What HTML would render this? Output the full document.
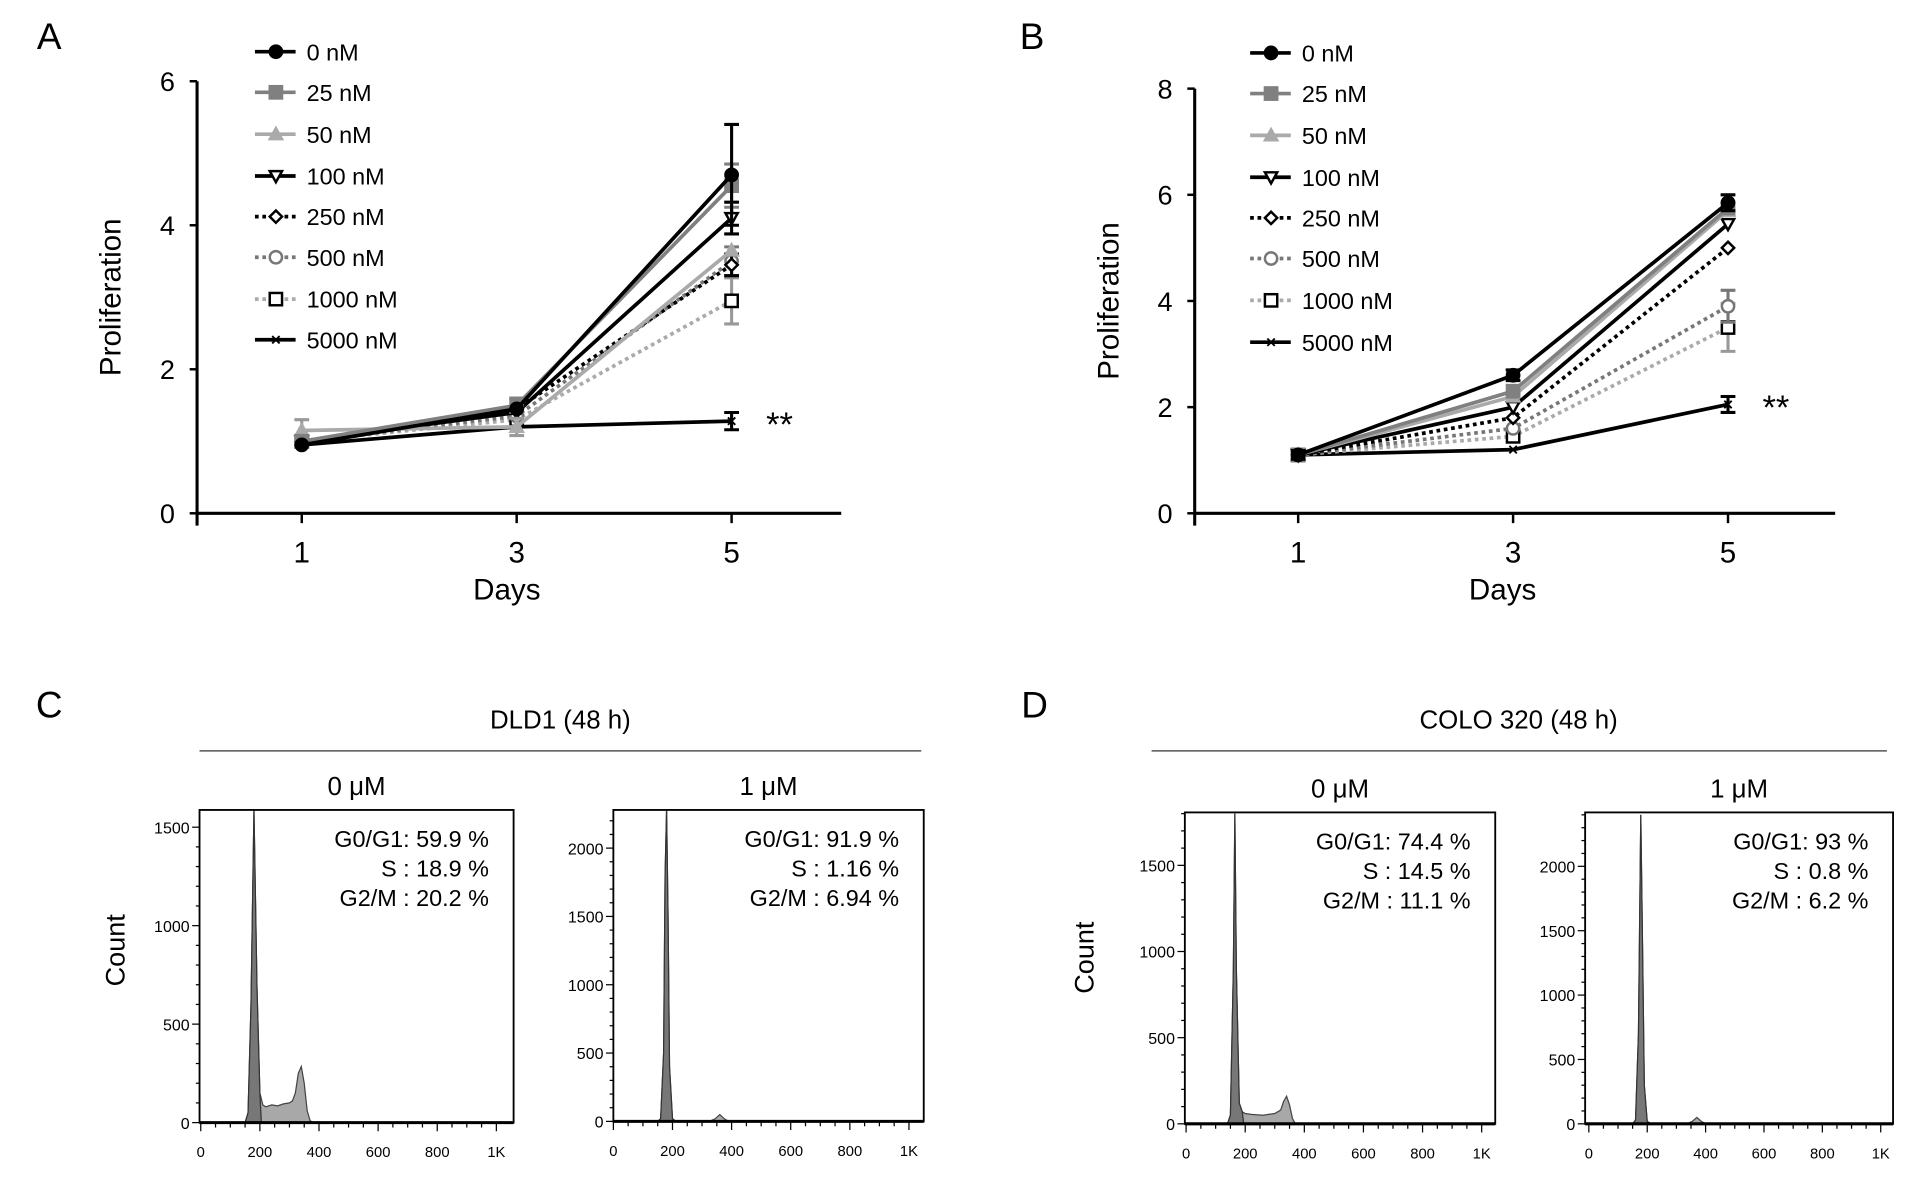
<!DOCTYPE html>
<html><head><meta charset="utf-8"><style>
html,body{margin:0;padding:0;background:#fff;}
svg{display:block;font-family:"Liberation Sans",sans-serif;}
</style></head><body>
<svg id="fig" width="1930" height="1178" viewBox="0 0 1567 957" preserveAspectRatio="none" xmlns="http://www.w3.org/2000/svg">
<rect width="1567" height="957" fill="#fff"/>
<g id="root"></g>
</svg>
<script>
// ---------- data ----------
const days = [1, 3, 5];
const seriesNames = ["0 nM","25 nM","50 nM","100 nM","250 nM","500 nM","1000 nM","5000 nM"];
const dataA = [
  [0.95,1.45,4.7],[1.0,1.5,4.55],[1.15,1.2,3.65],[1.0,1.4,4.1],
  [1.0,1.45,3.45],[1.0,1.35,3.5],[1.0,1.3,2.95],[0.95,1.2,1.28]];
const errA = [
  [0,0,0.7],[0,0.1,0.3],[0.15,0.12,0],[0,0,0.22],
  [0,0,0.15],[0,0,0.2],[0,0,0.32],[0,0,0.12]];
const dataB = [
  [1.1,2.6,5.85],[1.1,2.3,5.75],[1.1,2.2,5.7],[1.1,2.0,5.45],
  [1.1,1.8,5.0],[1.1,1.6,3.9],[1.1,1.45,3.5],[1.1,1.2,2.05]];
const errB = [
  [0.08,0.1,0.15],[0,0,0.1],[0,0,0],[0,0,0],
  [0,0,0],[0,0,0.3],[0,0,0.45],[0,0,0.15]];
const yTicksA = [0,2,4,6];
const yTicksB = [0,2,4,6,8];
// histograms: DNA content values and counts
const hC1x = [0,150,160,170,180,190,200,210,220,240,260,280,300,310,320,330,340,350,360,370,380,1000];
const hC1y = [0,0,50,600,1600,700,150,90,80,90,85,95,100,110,150,250,285,200,60,10,0,0];
const hC2x = [0,150,160,170,175,180,185,190,200,210,330,345,360,375,390,1000];
const hC2y = [0,0,20,500,1800,2300,1500,400,20,5,5,20,50,20,0,0];
const hD1x = [0,140,150,160,165,170,180,190,200,220,260,300,320,330,340,350,360,370,1000];
const hD1y = [0,0,50,900,1800,900,120,70,60,55,50,60,80,130,160,110,30,0,0];
const hD2x = [0,150,160,170,178,185,190,200,210,340,355,370,385,400,1000];
const hD2y = [0,0,30,700,2400,1200,300,20,5,5,20,50,20,0,0];
const hxTicks = [0,200,400,600,800,1000];
const hxLabels = ["0","200","400","600","800","1K"];

// ---------- helpers ----------
const NS="http://www.w3.org/2000/svg";
const root=document.getElementById('root');
function el(tag,attrs,parent,txt){const e=document.createElementNS(NS,tag);for(const k in attrs)e.setAttribute(k,attrs[k]);if(txt!==undefined)e.textContent=txt;(parent||root).appendChild(e);return e;}
function grp(name){const g=document.createElementNS(NS,'g');


root.appendChild(g);return g;}

const styles=[
 {c:"#000",d:"",m:"circle",f:"#000"},
 {c:"#808080",d:"",m:"square",f:"#808080"},
 {c:"#aaa",d:"",m:"tri",f:"#aaa"},
 {c:"#000",d:"",m:"dtri",f:"#fff"},
 {c:"#000",d:"3,3",m:"diamond",f:"#fff"},
 {c:"#777",d:"3,3",m:"circle",f:"#fff"},
 {c:"#aaa",d:"3,3",m:"square",f:"#fff"},
 {c:"#000",d:"",m:"star",f:"#000"}];
function marker(g,m,x,y,s){
  const st={stroke:s.m==="circle"&&s.f==="#fff"?s.c:(s.f==="#fff"?"#000":s.c),"stroke-width":2,fill:s.f};
  if(s.m==="circle")el('circle',Object.assign({cx:x,cy:y,r:5},st),g);
  else if(s.m==="square")el('rect',Object.assign({x:x-5,y:y-5,width:10,height:10},st),g);
  else if(s.m==="tri")el('polygon',Object.assign({points:`${x},${y-5} ${x+5},${y+4} ${x-5},${y+4}`},st),g);
  else if(s.m==="dtri")el('polygon',Object.assign({points:`${x-5},${y-4} ${x+5},${y-4} ${x},${y+5}`},st),g);
  else if(s.m==="diamond")el('polygon',Object.assign({points:`${x},${y-5} ${x+5},${y} ${x},${y+5} ${x-5},${y}`},st),g);
  else el('path',{d:`M${x-3},${y-3}L${x+3},${y+3}M${x+3},${y-3}L${x-3},${y+3}`,stroke:"#000","stroke-width":1.5},g);
}

function lineChart(o){
  const g=grp(o.name);
  const xS=d=>o.x1+(d-1)/4*(o.x5-o.x1);
  const yS=v=>o.y0-v/o.ymax*(o.y0-o.ytop);
  el('line',{x1:o.ax,y1:o.ytop,x2:o.ax,y2:o.y0+10,stroke:"#000","stroke-width":2.5},g);
  el('line',{x1:o.ax,y1:o.y0,x2:o.axEnd,y2:o.y0,stroke:"#000","stroke-width":2.5},g);
  o.yt.forEach(t=>{const y=yS(t);el('line',{x1:o.ax-6,y1:y,x2:o.ax,y2:y,stroke:"#000","stroke-width":2},g);
    const tx=el('text',{x:o.ax-18,y:y+8,"font-size":22,"text-anchor":"end"},g,String(t));
    });
  days.forEach(d=>{const x=xS(d);el('line',{x1:x,y1:o.y0,x2:x,y2:o.y0+8,stroke:"#000","stroke-width":2},g);
    const tx=el('text',{x:x,y:o.y0+40,"font-size":24,"text-anchor":"middle"},g,String(d));
    });
  const xt=el('text',{x:(o.ax+o.axEnd)/2-10,y:o.y0+70,"font-size":24,"text-anchor":"middle"},g,"Days");
  
  const yt=el('text',{x:0,y:0,"font-size":24,"text-anchor":"middle",transform:`translate(${o.ax-62},${(o.ytop+o.y0)/2}) rotate(-90)`},g,"Proliferation");
  
  for(let i=o.data.length-1;i>=0;i--){
    const s=styles[i];const sg=document.createElementNS(NS,'g');g.appendChild(sg);
    
    
    const pts=o.data[i].map((v,j)=>xS(days[j])+","+yS(v)).join(" ");
    el('polyline',{points:pts,fill:"none",stroke:s.c,"stroke-width":3,"stroke-dasharray":s.d},sg);
    o.data[i].forEach((v,j)=>{const e=o.err[i][j];const x=xS(days[j]);
      if(e>0){const a=yS(v+e),b=yS(v-e);
        el('path',{d:`M${x},${a}L${x},${b}M${x-6},${a}L${x+6},${a}M${x-6},${b}L${x+6},${b}`,stroke:s.c==="#aaa"?"#999":s.c,"stroke-width":2.5,fill:"none"},sg);}
      marker(sg,s.m,x,yS(v),s);});
  }
  const st=el('text',{x:o.x5+28,y:yS(o.data[7][2])+12,"font-size":28},g,"**");
  
  seriesNames.forEach((n,i)=>{const y=o.legY[i];const s=styles[i];
    const lg=document.createElementNS(NS,'g');g.appendChild(lg);
    
    
    el('line',{x1:o.legX,y1:y,x2:o.legX+33,y2:y,stroke:s.c,"stroke-width":3,"stroke-dasharray":s.d},lg);
    marker(lg,s.m,o.legX+17,y,s);
    el('text',{x:o.legX+42,y:y+7,"font-size":19},lg,n);});
}
lineChart({name:"chart-a",ax:160,axEnd:683,y0:417,ytop:66,ymax:6,x1:245,x5:594,yt:yTicksA,data:dataA,err:errA,legX:207,legY:[42,75,109,143,176,209,243,276]});
lineChart({name:"chart-b",ax:970,axEnd:1490,y0:417,ytop:72,ymax:8,x1:1054,x5:1403,yt:yTicksB,data:dataB,err:errB,legX:1015,legY:[43,76,110,144,177,210,244,278]});

function hist(o){
  const g=grp(o.name);
  const xS=v=>o.x0+v/1000*(o.xk-o.x0);
  const yS=v=>o.yb-v/o.tick*o.tickPx;
  const clip=(v)=>Math.max(o.top,yS(v));
  for(let v=0;yS(v)>=o.top;v+=o.tick/5){const y=yS(v);const major=(v%o.tick)===0;
    el('line',{x1:o.l-(major?6:3),y1:y,x2:o.l,y2:y,stroke:"#000","stroke-width":1},g);
    if(major){const t=el('text',{x:o.l-8,y:y+5,"font-size":13,"text-anchor":"end"},g,String(v));
      }}
  for(let v=0;v<=1000;v+=50){const x=xS(v);const major=v%200===0;
    el('line',{x1:x,y1:o.yb,x2:x,y2:o.yb+(major?7:4),stroke:"#000","stroke-width":1},g);}
  hxTicks.forEach((v,i)=>{const t=el('text',{x:xS(v),y:o.yb+28,"font-size":12,"text-anchor":"middle"},g,hxLabels[i]);
    });
  let d=`M${xS(o.hx[0])},${o.yb}`;o.hx.forEach((v,i)=>d+=`L${xS(v)},${clip(o.hy[i])}`);d+=`L${xS(1000)},${o.yb}Z`;
  const hp=el('path',{d:d,fill:"#a8a8a8",stroke:"#444","stroke-width":1},g);
  
  let d2=`M${xS(o.hx[0])},${o.yb}`;o.hx.forEach((v,i)=>{if(v<=o.g1end)d2+=`L${xS(v)},${clip(o.hy[i])}`;});d2+=`L${xS(o.g1end)},${o.yb}Z`;
  el('path',{d:d2,fill:"#777",stroke:"#333","stroke-width":1},g);
  el('rect',{x:o.l,y:o.top,width:o.r-o.l,height:o.yb-o.top,fill:"none",stroke:"#000","stroke-width":1.5},g);
  el('line',{x1:o.l,y1:o.yb,x2:o.r,y2:o.yb,stroke:"#000","stroke-width":2.5},g);
  const t=el('text',{x:(o.l+o.r)/2,y:o.top-12,"font-size":21,"text-anchor":"middle"},g,o.title);
  
  o.stats.forEach((s,i)=>{const tt=el('text',{x:o.r-20,y:o.top+30+i*24,"font-size":19,"text-anchor":"end"},g,s);
    });
}
hist({name:"hist-c-0um",l:162,r:417,top:658,yb:912,x0:163,xk:403,tick:500,tickPx:80,hx:hC1x,hy:hC1y,g1end:205,title:"0 μM",stats:["G0/G1: 59.9 %","S : 18.9 %","G2/M : 20.2 %"]});
hist({name:"hist-c-1um",l:498,r:750,top:658,yb:911,x0:498,xk:738,tick:500,tickPx:55.5,hx:hC2x,hy:hC2y,g1end:205,title:"1 μM",stats:["G0/G1: 91.9 %","S : 1.16 %","G2/M : 6.94 %"]});
hist({name:"hist-d-0um",l:962,r:1214,top:660,yb:913,x0:963,xk:1203,tick:500,tickPx:70,hx:hD1x,hy:hD1y,g1end:195,title:"0 μM",stats:["G0/G1: 74.4 %","S : 14.5 %","G2/M : 11.1 %"]});
hist({name:"hist-d-1um",l:1287,r:1537,top:660,yb:913,x0:1290,xk:1527,tick:500,tickPx:52.3,hx:hD2x,hy:hD2y,g1end:205,title:"1 μM",stats:["G0/G1: 93 %","S : 0.8 %","G2/M : 6.2 %"]});

function txt(name,x,y,s,size,rot,anchor){const t=el('text',{x:x,y:y,"font-size":size,"text-anchor":anchor||"middle"},root,s);
  if(rot)t.setAttribute('transform',`rotate(-90 ${x} ${y})`);
  }
txt('panel-label-a',40,40,'A',30);txt('panel-label-b',838,40,'B',30);
txt('panel-label-c',40,583,'C',30);txt('panel-label-d',840,583,'D',30);
txt('title-dld1',455,592,'DLD1 (48 h)',21);txt('title-colo320',1233,592,'COLO 320 (48 h)',21);
el('line',{x1:162,y1:610,x2:748,y2:610,stroke:"#555","stroke-width":1.2});
el('line',{x1:935,y1:610,x2:1532,y2:610,stroke:"#555","stroke-width":1.2});
txt('count-axis-title-c',101,772,'Count',22,true);
txt('count-axis-title-d',888,778,'Count',22,true);
</script>
</body></html>
